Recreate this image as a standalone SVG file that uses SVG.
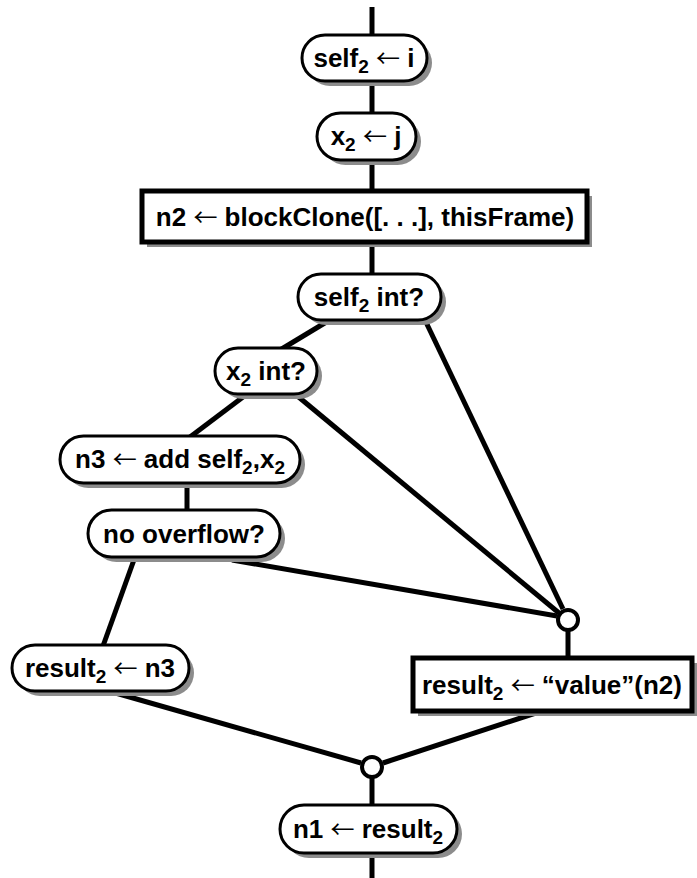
<svg xmlns="http://www.w3.org/2000/svg" width="697" height="878" viewBox="0 0 697 878">
  <style>
    .bg { fill: #ffffff; }
    .sh { fill: #8c8c8c; }
    .pill { fill: #ffffff; stroke: #000000; stroke-width: 3; }
    .box { fill: #ffffff; stroke: #000000; stroke-width: 5; }
    .edge { stroke: #000000; stroke-width: 5; fill: none; stroke-linecap: butt; }
    .join { fill: #ffffff; stroke: #000000; stroke-width: 4; }
    text { font-family: "Liberation Sans", Arial, Helvetica, sans-serif; font-weight: bold; font-size: 26px; fill: #000000; text-anchor: middle; }
    .sub { font-size: 19px; }
    .arr { font-weight: normal; font-family: "Noto Sans CJK JP", "DejaVu Sans", sans-serif; font-size: 24px; }
  </style>
  <rect class="bg" x="0" y="0" width="697" height="878"/>

  <!-- control-flow edges -->
  <g id="connectors">
    <line class="edge" x1="372" y1="7" x2="372" y2="36"/>
    <line class="edge" x1="372" y1="80" x2="372" y2="113"/>
    <line class="edge" x1="372" y1="160" x2="372" y2="191"/>
    <line class="edge" x1="372" y1="241" x2="372" y2="274"/>
    <line class="edge" x1="333" y1="318" x2="280" y2="350"/>
    <line class="edge" x1="424" y1="318" x2="563" y2="609"/>
    <line class="edge" x1="247" y1="394" x2="190" y2="437"/>
    <line class="edge" x1="295" y1="394" x2="559" y2="613"/>
    <line class="edge" x1="187" y1="485" x2="187" y2="510"/>
    <line class="edge" x1="135" y1="557" x2="103" y2="646"/>
    <line class="edge" x1="232" y1="560" x2="557" y2="616"/>
    <line class="edge" x1="568" y1="630" x2="568" y2="658"/>
    <line class="edge" x1="105" y1="690" x2="361" y2="763"/>
    <line class="edge" x1="545" y1="710" x2="383" y2="763"/>
    <line class="edge" x1="372" y1="777" x2="372" y2="805"/>
    <line class="edge" x1="372" y1="855" x2="372" y2="878"/>
  </g>

  <g id="join-a">
    <circle class="join" cx="568" cy="620" r="10"/>
  </g>
  <g id="join-b">
    <circle class="join" cx="372" cy="767" r="10"/>
  </g>

  <g id="n-self2-i">
    <rect class="sh" x="307" y="40" width="125" height="46" rx="23"/>
    <rect class="pill" x="302" y="35" width="125" height="46" rx="23"/>
    <text x="364" y="67">self<tspan class="sub" dy="6">2</tspan><tspan dy="-6"> </tspan><tspan class="arr">←</tspan> i</text>
  </g>

  <g id="n-x2-j">
    <rect class="sh" x="322" y="118" width="99" height="47" rx="23.5"/>
    <rect class="pill" x="317" y="113" width="99" height="47" rx="23.5"/>
    <text x="366" y="145">x<tspan class="sub" dy="6">2</tspan><tspan dy="-6"> </tspan><tspan class="arr">←</tspan> j</text>
  </g>

  <g id="n-blockclone">
    <rect class="sh" x="147" y="196" width="445" height="51"/>
    <rect class="box" x="142" y="191" width="445" height="51"/>
    <text x="365" y="226">n2 <tspan class="arr">←</tspan> blockClone([. . .], thisFrame)</text>
  </g>

  <g id="n-self2-int">
    <rect class="sh" x="303" y="279" width="143" height="46" rx="23"/>
    <rect class="pill" x="298" y="274" width="143" height="46" rx="23"/>
    <text x="369" y="306">self<tspan class="sub" dy="6">2</tspan><tspan dy="-6"> int?</tspan></text>
  </g>

  <g id="n-x2-int">
    <rect class="sh" x="220" y="353" width="102" height="46" rx="23"/>
    <rect class="pill" x="215" y="348" width="102" height="46" rx="23"/>
    <text x="266" y="380">x<tspan class="sub" dy="6">2</tspan><tspan dy="-6"> int?</tspan></text>
  </g>

  <g id="n-n3-add">
    <rect class="sh" x="65" y="441" width="240" height="47" rx="23.5"/>
    <rect class="pill" x="60" y="436" width="240" height="47" rx="23.5"/>
    <text x="180" y="468">n3 <tspan class="arr">←</tspan> add self<tspan class="sub" dy="6">2</tspan><tspan dy="-6">,x</tspan><tspan class="sub" dy="6">2</tspan></text>
  </g>

  <g id="n-no-overflow">
    <rect class="sh" x="93" y="515" width="192" height="47" rx="23.5"/>
    <rect class="pill" x="88" y="510" width="192" height="47" rx="23.5"/>
    <text x="184" y="543">no overflow?</text>
  </g>

  <g id="n-result-n3">
    <rect class="sh" x="17" y="650" width="177" height="46" rx="23"/>
    <rect class="pill" x="12" y="645" width="177" height="46" rx="23"/>
    <text x="100" y="677">result<tspan class="sub" dy="6">2</tspan><tspan dy="-6"> </tspan><tspan class="arr">←</tspan> n3</text>
  </g>

  <g id="n-result-value">
    <rect class="sh" x="418" y="663" width="279" height="53"/>
    <rect class="box" x="413" y="658" width="279" height="53"/>
    <text x="552" y="694">result<tspan class="sub" dy="6">2</tspan><tspan dy="-6"> </tspan><tspan class="arr">←</tspan> “value”(n2)</text>
  </g>

  <g id="n-n1">
    <rect class="sh" x="285" y="810" width="177" height="48" rx="24"/>
    <rect class="pill" x="280" y="805" width="177" height="48" rx="24"/>
    <text x="368" y="838">n1 <tspan class="arr">←</tspan> result<tspan class="sub" dy="6">2</tspan></text>
  </g>
</svg>
